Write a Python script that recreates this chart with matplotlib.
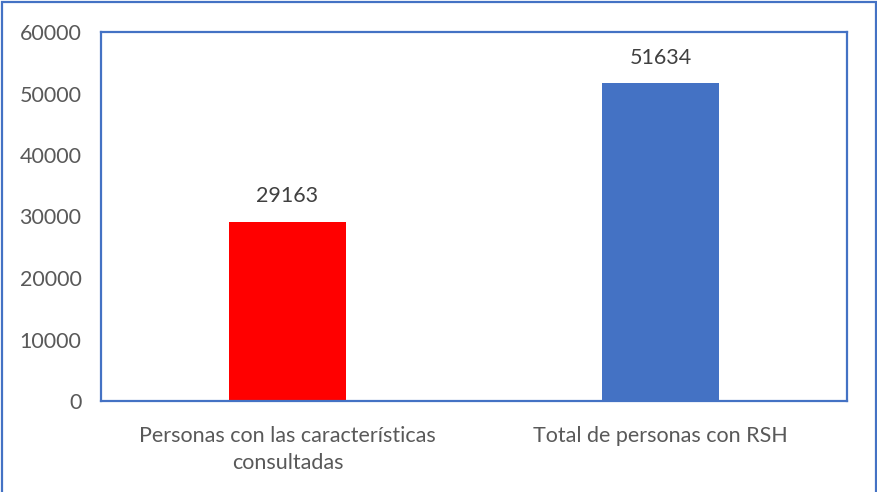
import matplotlib.pyplot as plt
from matplotlib.patches import Rectangle

categories = ['Personas con las características\nconsultadas', 'Total de personas con RSH']
values = [29163, 51634]
bar_colors = ['#FF0000', '#4472C4']
yticks = [0, 10000, 20000, 30000, 40000, 50000, 60000]

plt.rcParams['font.family'] = ['Lato', 'DejaVu Sans']

fig = plt.figure(figsize=(8.78, 4.92), dpi=100)
ax = fig.add_axes([101 / 878, 91 / 492, 746 / 878, 369 / 492])

x = range(len(categories))
bars = ax.bar(x, values, width=0.315, color=bar_colors)

for xi, v in zip(x, values):
    ax.annotate(str(v), (xi, v), xytext=(0, 11), textcoords='offset points',
                ha='center', va='bottom', fontsize=15.5, color='#404040')

ax.set_xlim(-0.5, 1.5)
ax.set_ylim(0, 60000)
ax.set_yticks(yticks)
ax.set_yticklabels([str(t) for t in yticks])
ax.set_xticks(list(x))
ax.set_xticklabels(categories, linespacing=1.45)
ax.tick_params(axis='both', length=0, labelsize=15.5, labelcolor='#595959')
ax.tick_params(axis='y', pad=14)
ax.tick_params(axis='x', pad=18)

for s in ax.spines.values():
    s.set_color('#4472C4')
    s.set_linewidth(1.6)

# outer chart border (bottom edge cut off in the reference)
fig.patches.append(Rectangle((2 / 878, -0.05), 874 / 878, 1.05 - 2 / 492,
                             transform=fig.transFigure, fill=False,
                             edgecolor='#4472C4', linewidth=1.6))

fig.savefig('out.png', dpi=100)
